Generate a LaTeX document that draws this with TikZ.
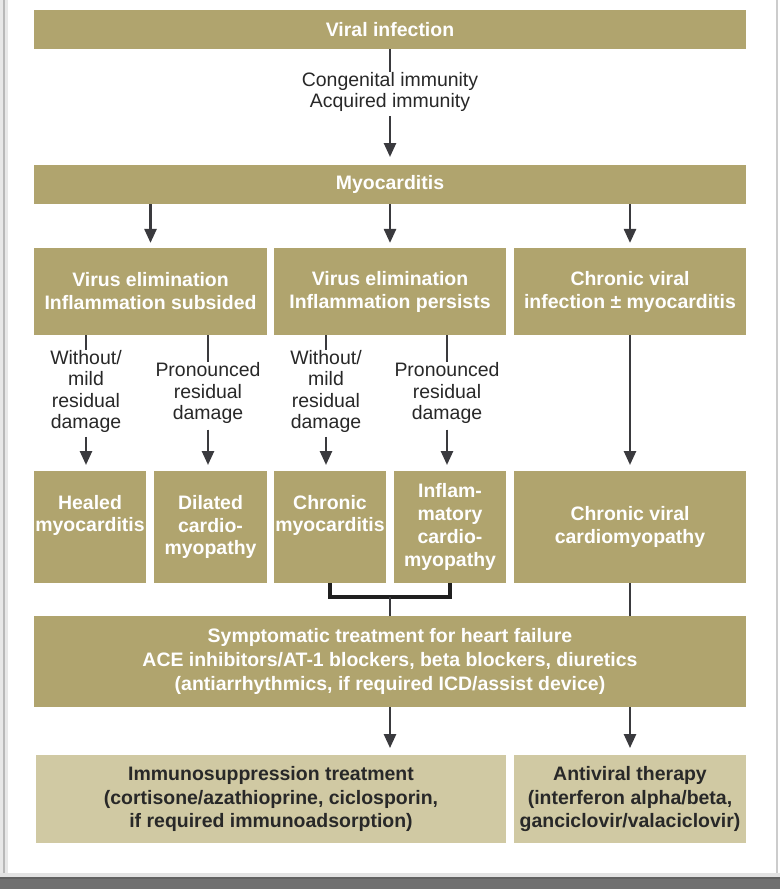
\documentclass[tikz,border=0pt]{standalone}
\usepackage{fontspec}
\setmainfont{Liberation Sans}
\usetikzlibrary{arrows.meta,calc}
\definecolor{boxtan}{RGB}{176,164,110}
\definecolor{lighttan}{RGB}{208,201,163}
\definecolor{darktext}{RGB}{40,40,40}
\definecolor{arrowgray}{RGB}{58,58,62}
\begin{document}
\begin{tikzpicture}[x=0.75pt,y=-0.75pt,
  sz/.style 2 args={minimum width=#1*0.75pt,minimum height=#2*0.75pt},
  box/.style={fill=boxtan,draw=none,text=white,font=\bfseries\fontsize{14.6}{17.2}\selectfont,align=center,inner sep=0pt,outer sep=0pt},
  lbox/.style={fill=lighttan,draw=none,text=darktext,font=\bfseries\fontsize{14.6}{17.6}\selectfont,align=center,inner sep=0pt,outer sep=0pt},
  lbl/.style={text=darktext,font=\fontsize{14.6}{16}\selectfont,align=center,inner sep=0pt},
  arr/.style={draw=arrowgray,line width=1.9pt,-{Triangle[length=10.5pt,width=9pt]}},
  ln/.style={draw=arrowgray,line width=1.9pt},
  brk/.style={draw=black!88,line width=2.6pt}]
\useasboundingbox (0,0) rectangle (780,889);
\fill[white] (0,0) rectangle (780,889);
% frame
\fill[gray!18] (0,0) rectangle (8,889);
\draw[gray!55,line width=1.5pt] (3.5,0) -- (3.5,878);
\draw[gray!40,line width=0.8pt] (777,0) -- (777,876);
\fill[gray!22] (0,873) rectangle (780,877);
\fill[black!62] (0,877) rectangle (780,879);
\fill[black!56] (0,879) rectangle (780,889);
% boxes
\node[box,sz={712}{39}] (vir) at (390,29.5) {Viral infection};
\node[lbl] (immlab) at (390,92) {Congenital immunity\\Acquired immunity};
\node[box,sz={712}{39}] (myo) at (390,184.5) {Myocarditis};
\node[box,sz={233}{87}] (r2a) at (150.5,291.5) {Virus elimination\\Inflammation subsided};
\node[box,sz={232}{87}] (r2b) at (390,291.5) {Virus elimination\\Inflammation persists};
\node[box,sz={232}{87}] (r2c) at (630,291.5) {Chronic viral\\infection ± myocarditis};
\node[lbl] (la) at (86,391.5) {Without/\\mild\\residual\\damage};
\node[lbl] (lb) at (208,393) {Pronounced\\residual\\damage};
\node[lbl] (lc) at (326,391.5) {Without/\\mild\\residual\\damage};
\node[lbl] (ld) at (447,393) {Pronounced\\residual\\damage};
\node[box,sz={112}{112}] (r3a) at (90,527) {Healed\\myocarditis\\\phantom{Ag}};
\node[box,sz={113}{112}] (r3b) at (210.5,527) {Dilated\\cardio-\\myopathy};
\node[box,sz={112}{112}] (r3c) at (330,527) {Chronic\\myocarditis\\\phantom{Ag}};
\node[box,sz={112}{112}] (r3d) at (450,527) {Inflam-\\matory\\cardio-\\myopathy};
\node[box,sz={232}{112}] (r3e) at (630,527) {Chronic viral\\cardiomyopathy};
\node[box,sz={712}{91},font=\bfseries\fontsize{14.6}{18.3}\selectfont] (sym) at (390,661.5) {Symptomatic treatment for heart failure\\ACE inhibitors/AT-1 blockers, beta blockers, diuretics\\(antiarrhythmics, if required ICD/assist device)};
\node[lbox,sz={470}{88}] (imm) at (271,799) {Immunosuppression treatment\\(cortisone/azathioprine, ciclosporin,\\if required immunoadsorption)};
\node[lbox,sz={232}{88}] (anti) at (630,799) {Antiviral therapy\\(interferon alpha/beta,\\ganciclovir/valaciclovir)};
\coordinate (bk) at (390,597);
% connectors
\draw[ln] (vir.south) -- (immlab.north);
\draw[arr,shorten <=3pt,shorten >=6pt] (immlab.south) -- (myo.north);
\draw[arr,shorten >=3.8pt] (myo.south -| r2a.north) -- (r2a.north);
\draw[arr,shorten >=3.8pt] (myo.south) -- (r2b.north);
\draw[arr,shorten >=3.8pt] (myo.south -| r2c.north) -- (r2c.north);
\draw[ln] (la.north |- r2a.south) -- (la.north);
\draw[arr,shorten <=3pt,shorten >=4.5pt] (la.south) -- (la.south |- r3a.north);
\draw[ln] (lb.north |- r2a.south) -- (lb.north);
\draw[arr,shorten <=4.5pt,shorten >=4.5pt] (lb.south) -- (lb.south |- r3b.north);
\draw[ln] (lc.north |- r2b.south) -- (lc.north);
\draw[arr,shorten <=3pt,shorten >=4.5pt] (lc.south) -- (lc.south |- r3c.north);
\draw[ln] (ld.north |- r2b.south) -- (ld.north);
\draw[arr,shorten <=4.5pt,shorten >=4.5pt] (ld.south) -- (ld.south |- r3d.north);
\draw[arr,shorten >=4.5pt] (r2c.south) -- (r3e.north);
\draw[brk] (r3c.south) |- (bk) -| (r3d.south);
\draw[ln] (bk) -- (sym.north);
\draw[ln] (r3e.south) -- (r3e.south |- sym.north);
\draw[arr,shorten >=5.2pt] (sym.south) -- (sym.south |- imm.north);
\draw[arr,shorten >=5.2pt] (anti.north |- sym.south) -- (anti.north);
\end{tikzpicture}
\end{document}
